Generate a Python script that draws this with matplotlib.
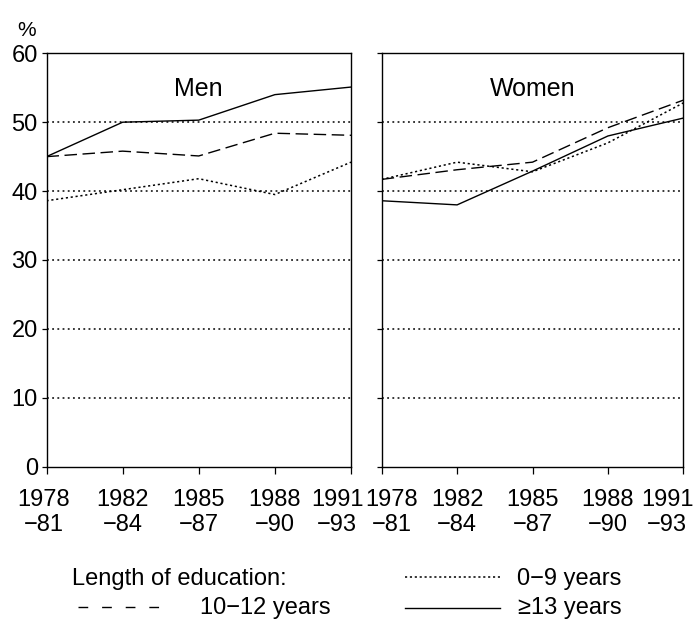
import matplotlib.pyplot as plt
from matplotlib.lines import Line2D
from matplotlib.transforms import ScaledTranslation

periods = ['1978\n\u221281', '1982\n\u221284', '1985\n\u221287', '1988\n\u221290', '1991\n\u221293']

men_0_9 = [38.6, 40.2, 41.8, 39.5, 44.2]
men_10_12 = [45.0, 45.8, 45.1, 48.4, 48.1]
men_13 = [45.0, 50.0, 50.3, 54.0, 55.1]

women_0_9 = [41.7, 44.2, 42.8, 47.0, 52.8]
women_10_12 = [41.7, 43.1, 44.2, 49.2, 53.2]
women_13 = [38.6, 38.0, 42.9, 48.0, 50.6]

plt.rcParams['font.family'] = ['Liberation Sans', 'DejaVu Sans']

W, H = 693, 623
fig = plt.figure(figsize=(W / 100, H / 100), dpi=100)
ax1 = fig.add_axes([46.5 / W, 1 - 466.7 / H, 304.5 / W, 413.4 / H])
ax2 = fig.add_axes([381.7 / W, 1 - 466.7 / H, 301.6 / W, 413.4 / H])

dot_style = dict(color='black', lw=1.1, linestyle=(0, (1.4, 1.8)))
dash_style = dict(color='black', lw=1.0, linestyle=(0, (9, 4)))
solid_style = dict(color='black', lw=1.0, linestyle='-')

x = range(len(periods))
for ax, d09, d1012, d13, title in [(ax1, men_0_9, men_10_12, men_13, 'Men'),
                                   (ax2, women_0_9, women_10_12, women_13, 'Women')]:
    for g in [10, 20, 30, 40, 50]:
        ax.axhline(g, color='black', lw=1.1, linestyle=(0, (1.2, 2.2)), zorder=1)
    ax.plot(x, d09, **dot_style, zorder=2)
    ax.plot(x, d1012, **dash_style, zorder=2)
    ax.plot(x, d13, **solid_style, zorder=2)
    ax.set_xlim(0, 4)
    ax.set_ylim(0, 60)
    ax.set_xticks(list(x))
    ax.set_xticklabels(periods, fontsize=17, linespacing=1.2)
    ax.set_yticks([0, 10, 20, 30, 40, 50, 60])
    ax.tick_params(axis='x', direction='out', length=5, width=0.9, pad=11)
    ax.tick_params(axis='y', direction='out', length=3.3, width=0.9, pad=3)
    for s in ax.spines.values():
        s.set_linewidth(1.0)
    ax.text(0.5, (466.7 - 96) / 413.4, title, transform=ax.transAxes,
            ha='center', va='baseline', fontsize=18)

ax1.set_yticklabels(['0', '10', '20', '30', '40', '50', '60'], fontsize=17)
ax2.set_yticklabels([])

# nudge edge tick labels so the two panels' labels do not collide
def nudge(label, dx):
    label.set_transform(label.get_transform() + ScaledTranslation(dx / 100, 0, fig.dpi_scale_trans))

nudge(ax1.get_xticklabels()[0], -3)
nudge(ax1.get_xticklabels()[-1], -14)
nudge(ax2.get_xticklabels()[0], 10)
nudge(ax2.get_xticklabels()[-1], -16)

fig.text(27 / W, 1 - 31 / H, '%', fontsize=15, ha='center', va='center')

# legend
def leg_line(x0, x1, y, style):
    fig.add_artist(Line2D([x0 / W, x1 / W], [1 - y / H, 1 - y / H], transform=fig.transFigure, **style))

fs = 17
fig.text(72 / W, 1 - 585 / H, 'Length of education:', fontsize=fs, va='baseline')
leg_line(405, 500, 577, dot_style)
fig.text(517 / W, 1 - 585 / H, '0\u22129 years', fontsize=fs, va='baseline')
leg_line(78, 170, 607, dict(color='black', lw=1.0, linestyle=(0, (7, 10))))
fig.text(200 / W, 1 - 614 / H, '10\u221212 years', fontsize=fs, va='baseline')
leg_line(405, 500, 608, solid_style)
fig.text(518 / W, 1 - 614 / H, '\u226513 years', fontsize=fs, va='baseline')

fig.savefig('out.png', dpi=100)
